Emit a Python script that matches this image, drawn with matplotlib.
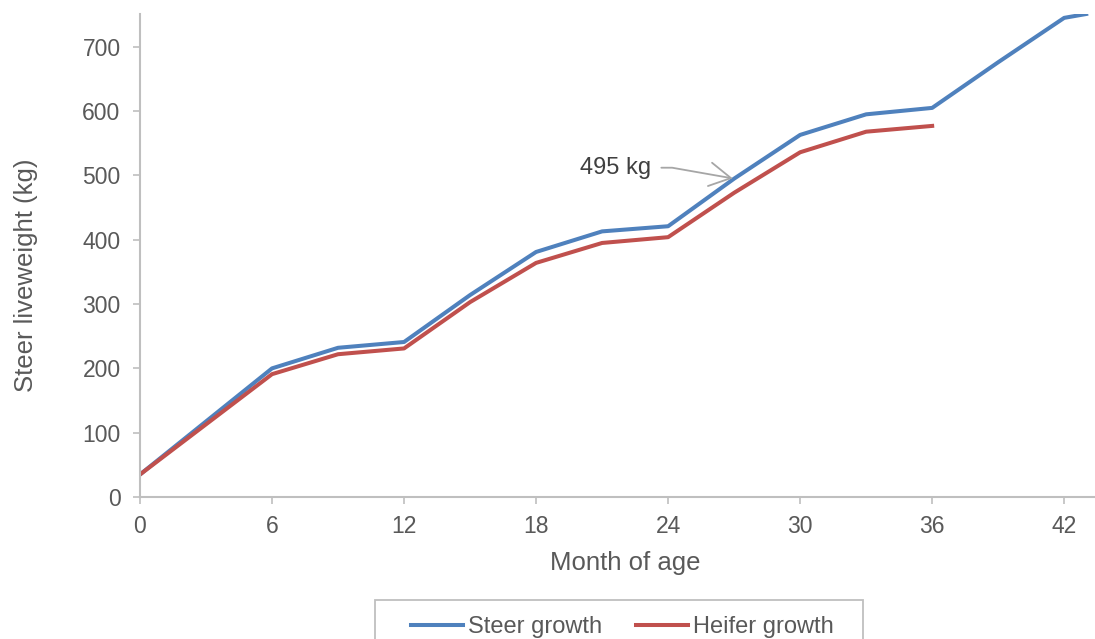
import matplotlib
matplotlib.use("Agg")
import matplotlib.pyplot as plt
from matplotlib.patches import Rectangle

# Liveweight by month of age
steer_months = [0, 6, 9, 12, 15, 18, 21, 24, 27, 30, 33, 36, 39, 42, 43]
steer_kg = [35, 200, 232, 241, 314, 381, 413, 421, 495, 563, 595, 605, 676, 745, 751]
heifer_months = [0, 6, 9, 12, 15, 18, 21, 24, 27, 30, 33, 36]
heifer_kg = [35, 191, 222, 231, 303, 364, 395, 404, 473, 536, 568, 577]

x_ticks = [0, 6, 12, 18, 24, 30, 36, 42]
y_ticks = [0, 100, 200, 300, 400, 500, 600, 700]

note_month = 27
note_kg = 495

plt.rcParams["font.family"] = ["Liberation Sans", "DejaVu Sans"]
text_color = "#595959"
axis_color = "#BFBFBF"

W, H = 1095, 639
fig = plt.figure(figsize=(W / 100, H / 100), dpi=100)
ax = fig.add_axes([140 / W, (H - 497) / H, 1 - 140 / W, (497 - 14) / H])

ax.plot(steer_months, steer_kg, color="#4F81BD", lw=2.9, label="Steer growth",
        solid_joinstyle="round")
ax.plot(heifer_months, heifer_kg, color="#C0504D", lw=2.9, label="Heifer growth",
        solid_joinstyle="round")

ax.set_xlim(0, 43.4)
ax.set_ylim(0, 751)
ax.set_xticks(x_ticks)
ax.set_yticks(y_ticks)

for side in ("top", "right"):
    ax.spines[side].set_visible(False)
for side in ("left", "bottom"):
    ax.spines[side].set_color(axis_color)
    ax.spines[side].set_linewidth(1.5)

ax.tick_params(axis="both", colors=axis_color, labelcolor=text_color,
               labelsize=16.5, length=5, width=1.2)
ax.tick_params(axis="y", pad=9)
ax.tick_params(axis="x", pad=8)

ax.set_xlabel("Month of age", fontsize=18.5, color=text_color, va="top")
ax.xaxis.set_label_coords((625 - 140) / 955, (497 - 551) / 483)
ax.set_ylabel("Steer liveweight (kg)", fontsize=18.5, color=text_color)
ax.yaxis.set_label_coords((38 - 140) / 955, (497 - 275) / 483)

ax.annotate(f"{note_kg} kg", xy=(note_month, note_kg), xytext=(23.25, 512),
            ha="right", va="center", fontsize=17, color="#404040",
            arrowprops=dict(arrowstyle="->,head_length=0.9,head_width=0.5",
                            color="#A6A6A6", lw=1.3, shrinkA=5, shrinkB=1,
                            connectionstyle="angle,angleA=0,angleB=170,rad=0"))

# Legend box, running past the bottom edge of the figure
fig.patches.append(Rectangle((375 / W, -0.05), (863 - 375) / W, (H - 600) / H + 0.05,
                             transform=fig.transFigure, fill=False,
                             edgecolor=axis_color, linewidth=1.3))
leg = fig.legend(loc="center", bbox_to_anchor=(622.5 / W, (H - 627) / H), ncol=2,
                 fontsize=17, frameon=False, handlelength=2.2, handletextpad=0.21,
                 columnspacing=1.44, borderpad=0.2, borderaxespad=0)
for t in leg.get_texts():
    t.set_color(text_color)

fig.savefig("out.png", dpi=100)
